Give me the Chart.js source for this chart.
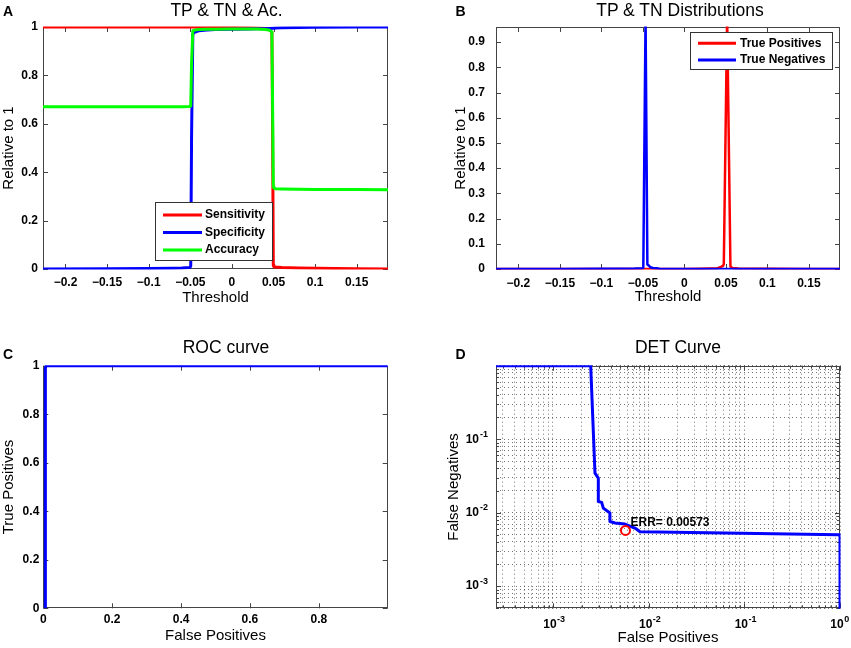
<!DOCTYPE html>
<html><head><meta charset="utf-8">
<script src="https://cdn.jsdelivr.net/npm/chart.js@4.4.1/dist/chart.umd.min.js"></script>
<style>
html,body{margin:0;padding:0;background:#fff;overflow:hidden;}
body{width:851px;height:648px;position:relative;font-family:"Liberation Sans",Arial,Helvetica,sans-serif;}
.pane{position:absolute;}
.pane canvas{display:block;}
.ttl{position:absolute;width:300px;text-align:center;font-size:17.5px;line-height:20px;color:#000;white-space:nowrap;}
.lt{position:absolute;font-weight:bold;font-size:14px;line-height:16px;color:#000;}
</style></head><body>
<div class="pane" style="left:0px;top:0px;width:425px;height:312px"><canvas id="cA" width="425" height="312"></canvas></div>
<div class="pane" style="left:440px;top:0px;width:411px;height:312px"><canvas id="cB" width="411" height="312"></canvas></div>
<div class="pane" style="left:0px;top:330px;width:425px;height:318px"><canvas id="cC" width="425" height="318"></canvas></div>
<div class="pane" style="left:440px;top:330px;width:411px;height:318px"><canvas id="cD" width="411" height="318"></canvas></div>
<div class="ttl" style="left:76.5px;top:0px">TP &amp; TN &amp; Ac.</div>
<div class="ttl" style="left:530px;top:0px">TP &amp; TN Distributions</div>
<div class="ttl" style="left:76px;top:337px">ROC curve</div>
<div class="ttl" style="left:528px;top:337px">DET Curve</div>
<div class="lt" style="left:3px;top:2.5px">A</div>
<div class="lt" style="left:455.5px;top:2.5px">B</div>
<div class="lt" style="left:3px;top:345.5px">C</div>
<div class="lt" style="left:455.5px;top:345.5px">D</div>
<script>
const FONT = '"Liberation Sans", Arial, Helvetica, sans-serif';

// ---------- Panel A data ----------
const thresholdA  = [-0.227,-0.15,-0.1,-0.07,-0.06,-0.0505,-0.0495,-0.0485,-0.047,-0.045,-0.04,-0.03,-0.02,0,0.02,0.03,0.04,0.044,0.046,0.048,0.0488,0.0497,0.0505,0.052,0.06,0.08,0.1,0.15,0.1875];
const sensitivity = [1,1,1,1,1,1,1,1,1,1,0.999,0.999,0.998,0.998,0.997,0.996,0.994,0.99,0.986,0.978,0.6,0.015,0.009,0.008,0.006,0.004,0.003,0.001,0];
const specificity = [0,0.001,0.002,0.003,0.004,0.006,0.012,0.55,0.97,0.978,0.984,0.988,0.99,0.991,0.992,0.993,0.993,0.994,0.994,0.995,0.995,0.995,0.995,0.996,0.997,0.998,0.999,1,1];
const accuracy    = [0.67,0.67,0.67,0.67,0.67,0.671,0.674,0.85,0.984,0.987,0.99,0.991,0.991,0.992,0.992,0.992,0.99,0.988,0.985,0.98,0.7,0.34,0.334,0.332,0.331,0.33,0.329,0.328,0.327];

// ---------- Panel B data ----------
const thresholdB    = [-0.227,-0.15,-0.1,-0.06,-0.05,-0.0495,-0.0468,-0.0446,-0.043,-0.041,-0.038,-0.034,-0.03,-0.02,0,0.02,0.04,0.044,0.0465,0.0475,0.0515,0.0555,0.058,0.065,0.1,0.15,0.1875];
const truePositives = [0,0,0,0,0,0,0,0,0,0,0,0,0,0,0,0.001,0.003,0.008,0.012,0.02,1,0.01,0.004,0.002,0.001,0,0];
const trueNegatives = [0,0,0.001,0.002,0.003,0.005,1,0.018,0.014,0.007,0.004,0.003,0.001,0,0,0,0,0,0,0,0,0,0,0,0,0,0];

// ---------- Panel C data ----------
const rocFalsePos = [0.006,0.006,0.008,0.05,1];
const rocTruePos  = [0,0.99,1,1,1];

// ---------- Panel D data ----------
const detFalsePos = [2.54e-4,0.00248,0.00275,0.00298,0.00298,0.00323,0.00336,0.00394,0.00394,0.00445,0.00566,0.0072,0.00812,0.0628,0.96,1,1];
const detFalseNeg = [1,1,0.0345,0.0295,0.0142,0.0138,0.01155,0.00988,0.00759,0.00723,0.0070,0.00618,0.0055,0.00528,0.00501,0.005,0.0001];
const errRate = 0.00573;

// ---------- ticks ----------
const thresholdTicks  = [-0.2,-0.15,-0.1,-0.05,0,0.05,0.1,0.15];
const thresholdLabels = ['\u22120.2','\u22120.15','\u22120.1','\u22120.05','0','0.05','0.1','0.15'];
const relTicksA  = [0,0.2,0.4,0.6,0.8,1];
const relLabelsA = ['0','0.2','0.4','0.6','0.8','1'];
const relTicksB  = [0,0.1,0.2,0.3,0.4,0.5,0.6,0.7,0.8,0.9];
const relLabelsB = ['0','0.1','0.2','0.3','0.4','0.5','0.6','0.7','0.8','0.9'];
const rocXTicks  = [0,0.2,0.4,0.6,0.8];
const rocXLabels = ['0','0.2','0.4','0.6','0.8'];
const rocYTicks  = [0,0.2,0.4,0.6,0.8,1];
const rocYLabels = ['0','0.2','0.4','0.6','0.8','1'];
const detXTicks  = [3e-4,4e-4,5e-4,6e-4,7e-4,8e-4,9e-4,1e-3,2e-3,3e-3,4e-3,5e-3,6e-3,7e-3,8e-3,9e-3,1e-2,2e-2,3e-2,4e-2,5e-2,6e-2,7e-2,8e-2,9e-2,0.1,0.2,0.3,0.4,0.5,0.6,0.7,0.8,0.9,1];
const detXMajor  = [1e-3,1e-2,1e-1,1];
const detXBase   = ['10','10','10','10'];
const detXExp    = ['-3','-2','-1','0'];
const detYTicks  = [5e-4,6e-4,7e-4,8e-4,9e-4,1e-3,2e-3,3e-3,4e-3,5e-3,6e-3,7e-3,8e-3,9e-3,1e-2,2e-2,3e-2,4e-2,5e-2,6e-2,7e-2,8e-2,9e-2,0.1,0.2,0.3,0.4,0.5,0.6,0.7,0.8,0.9,1];
const detYMajor  = [1e-3,1e-2,1e-1];
const detYBase   = ['10','10','10'];
const detYExp    = ['-3','-2','-1'];

function pts(xs, ys) { return xs.map((x, i) => ({x: x, y: ys[i]})); }
function majorIndex(v, majors) {
  for (let i = 0; i < majors.length; i++) if (Math.abs(v / majors[i] - 1) < 1e-9) return i;
  return -1;
}
function majorLabel(v, majors, labels) { const i = majorIndex(v, majors); return i < 0 ? '' : labels[i]; }

// ---------- plugins ----------
const matBox = {
  id: 'matBox',
  beforeDatasetsDraw(chart, args, o) {
    const ctx = chart.ctx, a = chart.chartArea, xs = chart.scales.x, ys = chart.scales.y;
    const len = v => (o.log && Math.abs(Math.log10(v) - Math.round(Math.log10(v))) > 1e-6) ? o.minor : o.major;
    ctx.save();
    ctx.strokeStyle = o.color; ctx.lineWidth = 1;
    ctx.beginPath();
    xs.ticks.forEach(t => {
      const p = Math.round(xs.getPixelForValue(t.value)) + 0.5, L = len(t.value);
      ctx.moveTo(p, a.bottom); ctx.lineTo(p, a.bottom - L);
      ctx.moveTo(p, a.top); ctx.lineTo(p, a.top + L);
    });
    ys.ticks.forEach(t => {
      const p = Math.round(ys.getPixelForValue(t.value)) + 0.5, L = len(t.value);
      ctx.moveTo(a.left, p); ctx.lineTo(a.left + L, p);
      ctx.moveTo(a.right, p); ctx.lineTo(a.right - L, p);
    });
    ctx.stroke();
    const l = Math.round(a.left), t = Math.round(a.top), r = Math.round(a.right), b = Math.round(a.bottom);
    ctx.strokeRect(l + 0.5, t + 0.5, r - l - 1, b - t - 1);
    ctx.restore();
  }
};
const boxLegend = {
  id: 'boxLegend',
  afterDatasetsDraw(chart, args, o) {
    if (!o.show) return;
    const ctx = chart.ctx;
    ctx.save();
    ctx.fillStyle = '#fff'; ctx.fillRect(o.left, o.top, o.width, o.height);
    ctx.strokeStyle = '#333'; ctx.lineWidth = 1;
    ctx.strokeRect(o.left + 0.5, o.top + 0.5, o.width - 1, o.height - 1);
    ctx.font = 'bold 12px ' + FONT; ctx.textBaseline = 'middle'; ctx.textAlign = 'left';
    let row = 0;
    chart.data.datasets.forEach(ds => {
      if (!ds.label) return;
      const y = o.top + o.firstRow + row * o.rowStep;
      ctx.strokeStyle = ds.borderColor; ctx.lineWidth = 3;
      ctx.beginPath(); ctx.moveTo(o.left + o.sampleStart, y); ctx.lineTo(o.left + o.sampleEnd, y); ctx.stroke();
      ctx.fillStyle = '#000';
      ctx.fillText(ds.label, o.left + o.textX, y);
      row++;
    });
    ctx.restore();
  }
};
const errLabel = {
  id: 'errLabel',
  afterDatasetsDraw(chart, args, o) {
    if (!o.text) return;
    const ctx = chart.ctx;
    const px = chart.scales.x.getPixelForValue(o.x), py = chart.scales.y.getPixelForValue(o.y);
    ctx.save();
    ctx.font = 'bold 12px ' + FONT; ctx.fillStyle = '#000'; ctx.textBaseline = 'middle'; ctx.textAlign = 'left';
    ctx.fillText(o.text, px + o.dx, py + o.dy);
    ctx.restore();
  }
};
// exponents of the log tick labels (10^k), placed next to the library's "10" labels
const logExp = {
  id: 'logExp',
  afterDraw(chart, args, o) {
    if (!o.show) return;
    const ctx = chart.ctx, xs = chart.scales.x, ys = chart.scales.y;
    ctx.save();
    ctx.font = 'bold 12px ' + FONT;
    const w10 = ctx.measureText('10').width;
    ctx.font = 'bold 9px ' + FONT; ctx.fillStyle = '#000'; ctx.textBaseline = 'middle'; ctx.textAlign = 'left';
    const xCenter = xs.top + xs.options.ticks.padding + 7.2;
    xs.ticks.forEach(t => {
      const i = majorIndex(t.value, detXMajor); if (i < 0) return;
      const px = xs.getPixelForValue(t.value) + xs.options.ticks.labelOffset;
      ctx.fillText(detXExp[i], px + w10 / 2 + 0.5, xCenter - 4.5);
    });
    const yRight = ys.right - ys.options.ticks.padding;
    ys.ticks.forEach(t => {
      const i = majorIndex(t.value, detYMajor); if (i < 0) return;
      const py = ys.getPixelForValue(t.value);
      ctx.fillText(detYExp[i], yRight + 1, py - 5);
    });
    ctx.restore();
  }
};

const tickFont = {family: FONT, size: 12, weight: 'bold'};
const titleFont = {family: FONT, size: 15};

function axis(p) {
  return {
    type: p.type || 'linear', min: p.min, max: p.max, bounds: 'data',
    afterBuildTicks: s => { s.ticks = p.ticks.map(v => ({value: v})); },
    afterFit: s => {
      if (p.horizontal) s.height = p.size; else s.width = p.size;
      s.paddingLeft = 0; s.paddingRight = 0; s.paddingTop = 0; s.paddingBottom = 0;
    },
    ticks: {font: tickFont, color: '#000', padding: p.pad, autoSkip: false, maxRotation: 0, minRotation: 0,
            labelOffset: p.labelOffset || 0, callback: p.label},
    grid: p.grid ? {display: true, drawOnChartArea: true, drawTicks: false, color: 'rgba(0,0,0,0.55)', lineWidth: 1}
                 : {display: false, drawTicks: false},
    border: {display: false, dash: p.grid ? [1, 3] : []},
    title: {display: true, text: p.title, font: titleFont, color: '#000', padding: {top: p.tpt || 0, bottom: p.tpb || 0}}
  };
}

function baseOptions(pad, scales, plugins) {
  return {
    responsive: false, animation: false, events: [],
    layout: {padding: pad},
    scales: scales,
    plugins: Object.assign({legend: {display: false}, tooltip: {enabled: false}, title: {display: false},
                            boxLegend: {show: false}, errLabel: {}, logExp: {show: false}}, plugins)
  };
}
function line(label, xs, ys, color, order, w, extra) {
  return Object.assign({label: label, data: pts(xs, ys), borderColor: color, backgroundColor: color, borderWidth: w || 3,
    pointRadius: 0, tension: 0, fill: false, order: order, clip: 0.5, borderJoinStyle: 'round'}, extra || {});
}
const PLUGINS = [matBox, boxLegend, errLabel, logExp];

// ---------- Panel A ----------
new Chart(document.getElementById('cA'), {
  type: 'line',
  data: {datasets: [
    line('Sensitivity', thresholdA, sensitivity, '#ff0000', 2),
    line('Specificity', thresholdA, specificity, '#0000ff', 1),
    line('Accuracy', thresholdA, accuracy, '#00ff00', 0)
  ]},
  options: baseOptions({left: 0, top: 27, right: 37, bottom: 0}, {
    x: axis({min: -0.227, max: 0.1875, ticks: thresholdTicks, label: (v, i) => thresholdLabels[i], title: 'Threshold', pad: 6, tpb: 5.5, size: 43, horizontal: true}),
    y: axis({min: 0, max: 1, ticks: relTicksA, label: (v, i) => relLabelsA[i], title: 'Relative to 1', pad: 5, tpt: 0, size: 43})
  }, {
    matBox: {color: '#444', major: 5},
    boxLegend: {show: true, left: 155, top: 202, width: 118, height: 59, sampleStart: 8, sampleEnd: 47, textX: 50, firstRow: 13, rowStep: 17.5}
  }),
  plugins: PLUGINS
});

// ---------- Panel B ----------
new Chart(document.getElementById('cB'), {
  type: 'line',
  data: {datasets: [
    line('True Positives', thresholdB, truePositives, '#ff0000', 1, 2.5),
    line('True Negatives', thresholdB, trueNegatives, '#0000ff', 0, 2.5)
  ]},
  options: baseOptions({left: 0, top: 27, right: 11, bottom: 0}, {
    x: axis({min: -0.227, max: 0.1875, ticks: thresholdTicks, label: (v, i) => thresholdLabels[i], title: 'Threshold', pad: 7, tpb: 6, size: 43, horizontal: true}),
    y: axis({min: 0, max: 0.96, ticks: relTicksB, label: (v, i) => relLabelsB[i], title: 'Relative to 1', pad: 11, tpt: 11.5, size: 56})
  }, {
    matBox: {color: '#444', major: 5},
    boxLegend: {show: true, left: 250, top: 32, width: 143, height: 38, sampleStart: 8, sampleEnd: 46, textX: 50, firstRow: 11.3, rowStep: 16.7}
  }),
  plugins: PLUGINS
});

// ---------- Panel C ----------
new Chart(document.getElementById('cC'), {
  type: 'line',
  data: {datasets: [
    line('', rocFalsePos, rocTruePos, '#0000ff', 0)
  ]},
  options: baseOptions({left: 0, top: 35.7, right: 37.3, bottom: 0}, {
    x: axis({min: 0, max: 1, ticks: rocXTicks, label: (v, i) => rocXLabels[i], title: 'False Positives', pad: 4.5, tpb: 3, size: 39.7, horizontal: true}),
    y: axis({min: 0, max: 1, ticks: rocYTicks, label: (v, i) => rocYLabels[i], title: 'True Positives', pad: 4, tpt: 0, size: 43.3})
  }, {
    matBox: {color: '#444', major: 5}
  }),
  plugins: PLUGINS
});

// ---------- Panel D ----------
new Chart(document.getElementById('cD'), {
  type: 'line',
  data: {datasets: [
    line('', detFalsePos, detFalseNeg, '#0000ff', 1),
    {label: '', data: [{x: errRate, y: errRate}], showLine: false, pointRadius: 4.5, pointBorderWidth: 2,
     pointBorderColor: '#ff0000', pointBackgroundColor: 'rgba(0,0,0,0)', borderColor: '#ff0000', order: 0, clip: false}
  ]},
  options: baseOptions({left: 0, top: 35.7, right: 11, bottom: 0}, {
    x: axis({type: 'logarithmic', min: 2.54e-4, max: 1, ticks: detXTicks, label: v => majorLabel(v, detXMajor, detXBase), title: 'False Positives', pad: 9, tpb: 1, size: 39.7, horizontal: true, grid: true, labelOffset: -3}),
    y: axis({type: 'logarithmic', min: 5e-4, max: 1, ticks: detYTicks, label: v => majorLabel(v, detYMajor, detYBase), title: 'False Negatives', pad: 17, tpt: 5, size: 56, grid: true})
  }, {
    matBox: {color: '#444', major: 5, minor: 3, log: true},
    errLabel: {text: 'ERR= ' + errRate, x: errRate, y: errRate, dx: 5, dy: -8},
    logExp: {show: true}
  }),
  plugins: PLUGINS
});
</script>
</body></html>
